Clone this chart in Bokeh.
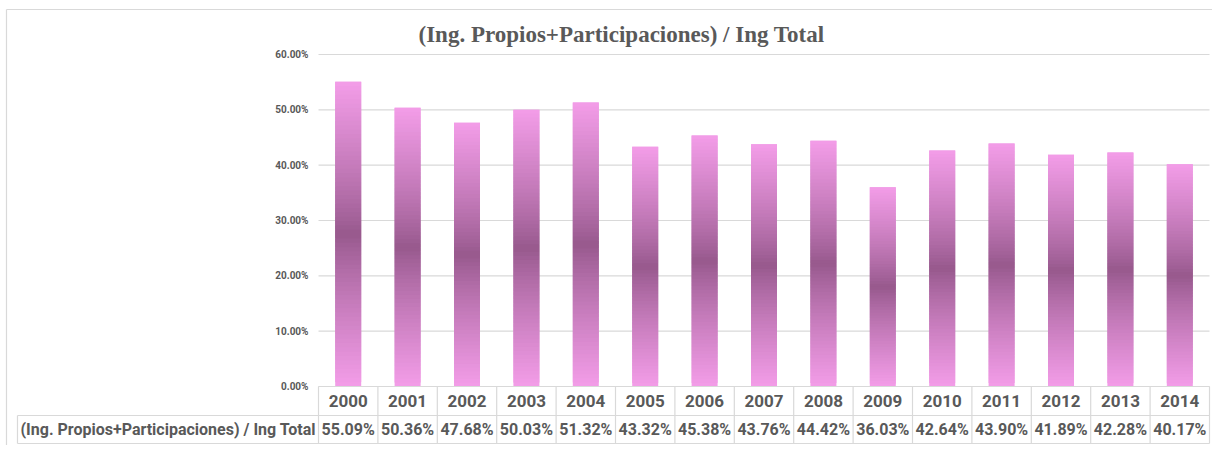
from bokeh.plotting import figure
from bokeh.models import Range1d
from bokeh.embed import file_html
from bokeh.resources import INLINE
from bokeh.core.properties import value

# ---- data ----
years = ["2000", "2001", "2002", "2003", "2004", "2005", "2006", "2007",
         "2008", "2009", "2010", "2011", "2012", "2013", "2014"]
ratios = [55.09, 50.36, 47.68, 50.03, 51.32, 43.32, 45.38, 43.76,
          44.42, 36.03, 42.64, 43.90, 41.89, 42.28, 40.17]
y_ticks = [0, 10, 20, 30, 40, 50, 60]
y_tick_labels = ["0.00%", "10.00%", "20.00%", "30.00%", "40.00%", "50.00%", "60.00%"]
title_text = "(Ing. Propios+Participaciones) / Ing Total"
row_label = "(Ing. Propios+Participaciones) / Ing Total"

# ---- layout (pixels) ----
W, H = 1212, 445
COL_PX = 59.4
X0_PX = 318.0          # canvas px of left edge of first column
Y0_PX = 386.0          # canvas px of the 0% line
PX_PER_PCT = 332.0 / 60.0

def dx(px):
    return px / COL_PX

def dy(px):
    return px / PX_PER_PCT

x_start = -0.5 - dx(X0_PX)
x_end = x_start + dx(W)
y_top = dy(Y0_PX)
y_bottom = -dy(H - Y0_PX)

TXT = "#595959"
GRID = "#d9d9d9"
FONT_T = value("Roboto")

p = figure(width=W, height=H, x_range=Range1d(x_start, x_end),
           y_range=Range1d(y_bottom, y_top), min_border=0,
           toolbar_location=None, output_backend="svg",
           x_axis_location=None, y_axis_location=None,
           outline_line_color=None, background_fill_color="white",
           border_fill_color="white")
p.grid.visible = False

n = len(years)
xs = list(range(n))
left_edge = -0.5
right_edge = n - 0.5

# outer chart border
bx0 = x_start + dx(6)
by0 = y_top - dy(9)
p.segment(x0=[bx0], y0=[by0], x1=[x_end], y1=[by0], line_color=GRID, line_width=1.2)
p.segment(x0=[bx0], y0=[by0], x1=[bx0], y1=[y_bottom], line_color=GRID, line_width=1.2)

# gridlines
p.segment(x0=[left_edge] * len(y_ticks), y0=y_ticks, x1=[right_edge] * len(y_ticks),
          y1=y_ticks, line_color=GRID, line_width=1.2)

# bars with vertical gradient (pink ends, dark purple centre)
pink = (243, 157, 232)
dark = (150, 88, 140)
NSEG = 70
bx, bb, bt, bc = [], [], [], []
for i, v in enumerate(ratios):
    step = v / NSEG
    for k in range(NSEG):
        t = (k + 0.5) / NSEG
        d = abs(t - 0.5) * 2
        f = d ** 0.85
        c = tuple(int(round(dark[j] + (pink[j] - dark[j]) * f)) for j in range(3))
        bx.append(i)
        bb.append(k * step)
        bt.append(min(v, (k + 2) * step))   # overlap next slice to avoid seams
        bc.append("#%02x%02x%02x" % c)
p.vbar(x=bx, bottom=bb, top=bt, width=dx(26), fill_color=bc, line_color=None)

# y tick labels
p.text(x=[left_edge - dx(10)] * len(y_ticks), y=y_ticks, text=y_tick_labels,
       text_align="right", text_baseline="middle", text_font=FONT_T,
       text_font_size="10px", text_font_style="bold", text_color=TXT)

# title
p.text(x=[x_start + dx(621)], y=[y_top - dy(34)], text=[title_text],
       text_align="center", text_baseline="middle",
       text_font=value("Liberation Serif"), text_font_size="23px",
       text_font_style="bold", text_color=TXT)

# table
row1 = -dy(29)
row2 = -dy(57)
label_left = x_start + dx(17)
p.segment(x0=[left_edge, label_left, label_left], y0=[0, row1, row2],
          x1=[right_edge, right_edge, right_edge], y1=[0, row1, row2],
          line_color=GRID, line_width=1.2)
vx = [left_edge + k for k in range(n + 1)]
p.segment(x0=vx, y0=[0] * len(vx), x1=vx, y1=[row2] * len(vx),
          line_color=GRID, line_width=1.2)
p.segment(x0=[label_left], y0=[row1], x1=[label_left], y1=[row2],
          line_color=GRID, line_width=1.2)

p.text(x=xs, y=[row1 / 2] * n, text=years, text_align="center",
       text_baseline="middle", text_font=FONT_T, text_font_size="17px",
       text_font_style="bold", text_color=TXT)
p.text(x=xs, y=[(row1 + row2) / 2] * n, text=["%.2f%%" % v for v in ratios],
       text_align="center", text_baseline="middle", text_font=FONT_T,
       text_font_size="16px", text_font_style="bold", text_color=TXT)
p.text(x=[label_left + dx(3)], y=[(row1 + row2) / 2], text=[row_label],
       text_align="left", text_baseline="middle", text_font=FONT_T,
       text_font_size="16px", text_font_style="bold", text_color=TXT)

open("out.html", "w").write(file_html(p, INLINE))
